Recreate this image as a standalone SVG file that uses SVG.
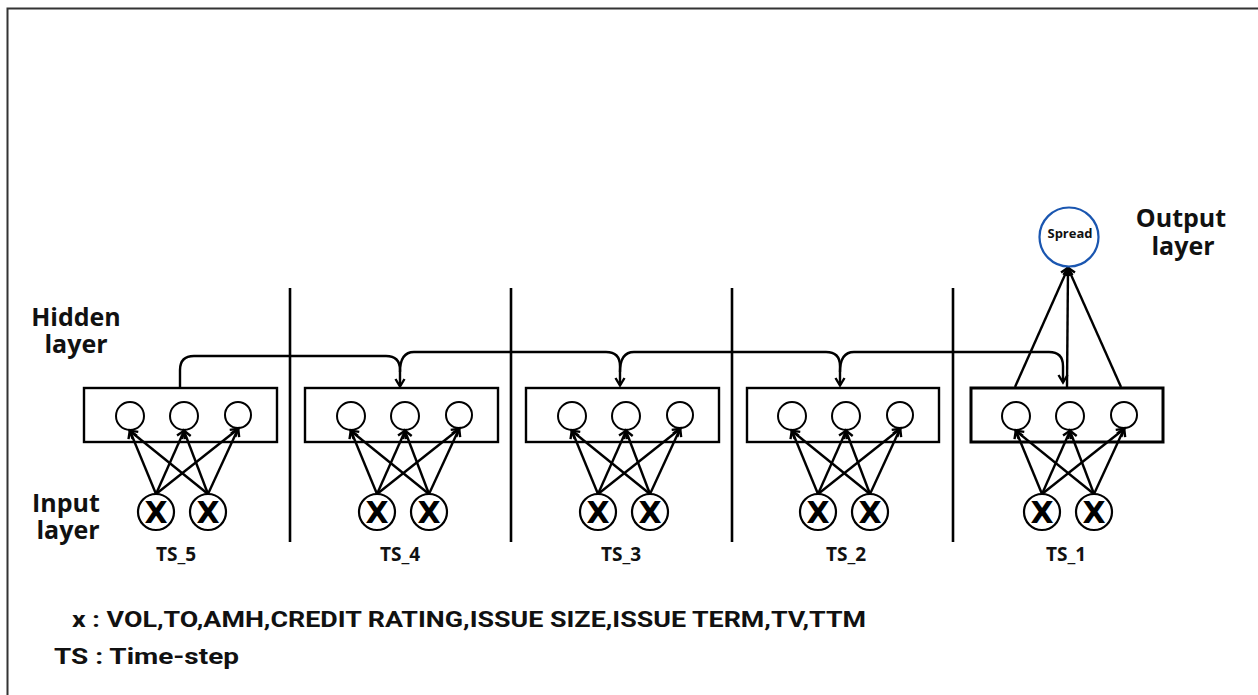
<svg xmlns="http://www.w3.org/2000/svg" width="1258" height="695" viewBox="0 0 1258 695">
<style>
.ln{stroke:#000;stroke-width:2.4;fill:none}
.box{fill:#fff;stroke:#000;stroke-width:2.4}
.hc{fill:#fff;stroke:#000;stroke-width:2}
.xc{fill:#fff;stroke:#000;stroke-width:2.2}
.xt{font-family:"DejaVu Sans","Liberation Sans",sans-serif;font-weight:700;font-size:30px;text-anchor:middle}
.lbl{font-family:"Open Sans","Liberation Sans",sans-serif;font-weight:700;font-size:25px;text-anchor:middle;fill:#111}
.ts{font-family:"Open Sans","Liberation Sans",sans-serif;font-weight:700;font-size:19px;text-anchor:middle;fill:#111}
.leg{font-family:"Roboto","Liberation Sans",sans-serif;font-weight:700;font-size:22px;fill:#111}
.div{stroke:#000;stroke-width:2.6}
</style>
<defs>
<marker id="ah" markerUnits="userSpaceOnUse" markerWidth="14" markerHeight="14" refX="9" refY="6" orient="auto">
<path d="M2,1.5 L9.5,6 L2,10.5" fill="none" stroke="#000" stroke-width="2.4"/>
</marker>
</defs>
<rect width="1258" height="695" fill="#fff"/>
<g id="border">
<path d="M7.5,695 V8.5 H1258" fill="none" stroke="#333" stroke-width="2"/>
</g>
<g id="dividers">
<line class="div" x1="290" y1="288" x2="290" y2="542"/>
<line class="div" x1="511" y1="288" x2="511" y2="542"/>
<line class="div" x1="732" y1="288" x2="732" y2="542"/>
<line class="div" x1="953" y1="288" x2="953" y2="542"/>
</g>
<g id="labels">
<text class="lbl" x="76" y="326">Hidden</text>
<text class="lbl" x="76" y="353">layer</text>
<text class="lbl" x="66" y="512">Input</text>
<text class="lbl" x="68" y="539">layer</text>
<text class="lbl" x="1181" y="227">Output</text>
<text class="lbl" x="1183" y="255">layer</text>
</g>
<g id="connectors">
<path class="ln" d="M180,388 V370 Q180,356 194,356 H386 Q400,356 400,370 V386" marker-end="url(#ah)"/>
<path class="ln" d="M400,372 Q400,352 414,352 H606 Q620,352 620,366 V385" marker-end="url(#ah)"/>
<path class="ln" d="M620,372 Q620,352 634,352 H826 Q840,352 840,366 V385" marker-end="url(#ah)"/>
<path class="ln" d="M840,372 Q840,352 854,352 H1049 Q1063,352 1063,366 V382" marker-end="url(#ah)"/>
<line class="ln" x1="1015" y1="387" x2="1068" y2="268" marker-end="url(#ah)"/>
<line class="ln" x1="1067" y1="387" x2="1068" y2="268" marker-end="url(#ah)"/>
<line class="ln" x1="1121" y1="387" x2="1068" y2="268" marker-end="url(#ah)"/>
</g>
<g id="ts5">
<rect class="box" x="84" y="388" width="193" height="54"/>
<circle class="hc" cx="130" cy="416" r="14"/><circle class="hc" cx="184" cy="416" r="14"/><circle class="hc" cx="238" cy="415" r="13"/>
<g class="ln"><line x1="156" y1="494" x2="130" y2="431" marker-end="url(#ah)"/><line x1="156" y1="494" x2="184" y2="431" marker-end="url(#ah)"/><line x1="156" y1="494" x2="238" y2="429" marker-end="url(#ah)"/><line x1="208" y1="494" x2="130" y2="431" marker-end="url(#ah)"/><line x1="208" y1="494" x2="184" y2="431" marker-end="url(#ah)"/><line x1="208" y1="494" x2="238" y2="429" marker-end="url(#ah)"/></g>
<circle class="xc" cx="156" cy="512" r="18"/><circle class="xc" cx="208" cy="512" r="18"/>
<text class="xt" x="156" y="523">X</text><text class="xt" x="208" y="523">X</text>
<text class="ts" x="176" y="561">TS_5</text>
</g>
<g id="ts4">
<rect class="box" x="305" y="388" width="193" height="54"/>
<circle class="hc" cx="351" cy="416" r="14"/><circle class="hc" cx="405" cy="416" r="14"/><circle class="hc" cx="459" cy="415" r="13"/>
<g class="ln"><line x1="377" y1="494" x2="351" y2="431" marker-end="url(#ah)"/><line x1="377" y1="494" x2="405" y2="431" marker-end="url(#ah)"/><line x1="377" y1="494" x2="459" y2="429" marker-end="url(#ah)"/><line x1="429" y1="494" x2="351" y2="431" marker-end="url(#ah)"/><line x1="429" y1="494" x2="405" y2="431" marker-end="url(#ah)"/><line x1="429" y1="494" x2="459" y2="429" marker-end="url(#ah)"/></g>
<circle class="xc" cx="377" cy="512" r="18"/><circle class="xc" cx="429" cy="512" r="18"/>
<text class="xt" x="377" y="523">X</text><text class="xt" x="429" y="523">X</text>
<text class="ts" x="400" y="561">TS_4</text>
</g>
<g id="ts3">
<rect class="box" x="526" y="388" width="193" height="54"/>
<circle class="hc" cx="572" cy="416" r="14"/><circle class="hc" cx="626" cy="416" r="14"/><circle class="hc" cx="680" cy="415" r="13"/>
<g class="ln"><line x1="598" y1="494" x2="572" y2="431" marker-end="url(#ah)"/><line x1="598" y1="494" x2="626" y2="431" marker-end="url(#ah)"/><line x1="598" y1="494" x2="680" y2="429" marker-end="url(#ah)"/><line x1="650" y1="494" x2="572" y2="431" marker-end="url(#ah)"/><line x1="650" y1="494" x2="626" y2="431" marker-end="url(#ah)"/><line x1="650" y1="494" x2="680" y2="429" marker-end="url(#ah)"/></g>
<circle class="xc" cx="598" cy="512" r="18"/><circle class="xc" cx="650" cy="512" r="18"/>
<text class="xt" x="598" y="523">X</text><text class="xt" x="650" y="523">X</text>
<text class="ts" x="621" y="561">TS_3</text>
</g>
<g id="ts2">
<rect class="box" x="747" y="388" width="192" height="54"/>
<circle class="hc" cx="792" cy="416" r="14"/><circle class="hc" cx="846" cy="416" r="14"/><circle class="hc" cx="900" cy="415" r="13"/>
<g class="ln"><line x1="818" y1="494" x2="792" y2="431" marker-end="url(#ah)"/><line x1="818" y1="494" x2="846" y2="431" marker-end="url(#ah)"/><line x1="818" y1="494" x2="900" y2="429" marker-end="url(#ah)"/><line x1="870" y1="494" x2="792" y2="431" marker-end="url(#ah)"/><line x1="870" y1="494" x2="846" y2="431" marker-end="url(#ah)"/><line x1="870" y1="494" x2="900" y2="429" marker-end="url(#ah)"/></g>
<circle class="xc" cx="818" cy="512" r="18"/><circle class="xc" cx="870" cy="512" r="18"/>
<text class="xt" x="818" y="523">X</text><text class="xt" x="870" y="523">X</text>
<text class="ts" x="846" y="561">TS_2</text>
</g>
<g id="ts1">
<rect class="box" x="971" y="388" width="192" height="54" style="stroke-width:3"/>
<circle class="hc" cx="1016" cy="416" r="14"/><circle class="hc" cx="1070" cy="416" r="14"/><circle class="hc" cx="1124" cy="415" r="13"/>
<g class="ln"><line x1="1042" y1="494" x2="1016" y2="431" marker-end="url(#ah)"/><line x1="1042" y1="494" x2="1070" y2="431" marker-end="url(#ah)"/><line x1="1042" y1="494" x2="1124" y2="429" marker-end="url(#ah)"/><line x1="1094" y1="494" x2="1016" y2="431" marker-end="url(#ah)"/><line x1="1094" y1="494" x2="1070" y2="431" marker-end="url(#ah)"/><line x1="1094" y1="494" x2="1124" y2="429" marker-end="url(#ah)"/></g>
<circle class="xc" cx="1042" cy="512" r="18"/><circle class="xc" cx="1094" cy="512" r="18"/>
<text class="xt" x="1042" y="523">X</text><text class="xt" x="1094" y="523">X</text>
<text class="ts" x="1066" y="561">TS_1</text>
</g>
<g id="spread">
<circle cx="1069" cy="237" r="29.5" fill="#fff" stroke="#1a56b0" stroke-width="2.2"/>
<text x="1070" y="238" font-family="'Open Sans','Liberation Sans',sans-serif" font-weight="700" font-size="13" text-anchor="middle" fill="#111">Spread</text>
</g>
<g id="legend">
<text class="leg" x="72" y="627" textLength="794" lengthAdjust="spacingAndGlyphs">x :  VOL,TO,AMH,CREDIT RATING,ISSUE SIZE,ISSUE TERM,TV,TTM</text>
<text class="leg" x="54" y="664" textLength="185" lengthAdjust="spacingAndGlyphs">TS : Time-step</text>
</g>
</svg>
